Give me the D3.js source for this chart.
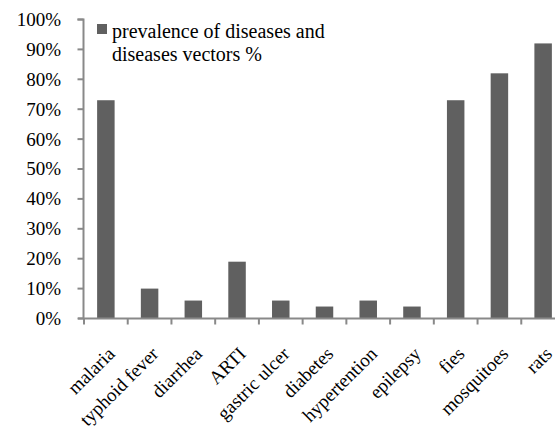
<!DOCTYPE html>
<html><head><meta charset="utf-8">
<script src="https://cdn.jsdelivr.net/npm/d3@7/dist/d3.min.js"></script>
<style>body{margin:0;background:#fff}svg{display:block}</style>
</head><body><svg id="c" width="555" height="433" font-family="Liberation Serif"></svg>
<script>
const categories = ["malaria","typhoid fever","diarrhea","ARTI","gastric ulcer","diabetes","hypertention","epilepsy","fies","mosquitoes","rats"];
const values = [73,10,6,19,6,4,6,4,73,82,92];
const yTicks = [0,10,20,30,40,50,60,70,80,90,100];
const seriesName = ["prevalence of diseases and","diseases vectors %"];

const FONT = "Liberation Serif";
const svg = d3.select("#c");
const x0 = 84, x1 = 565, yTop = 19.5, yBot = 318.5;
const x = d3.scaleBand().domain(categories).range([x0, x1]).paddingInner(0.6).paddingOuter(0.3);
const y = d3.scaleLinear().domain([0,100]).range([yBot, yTop]);
const axisColor = "#898989", barColor = "#606060";

// bars
svg.append("g").selectAll("rect").data(values).join("rect")
  .attr("x", (d,i)=>x(categories[i]))
  .attr("y", d=>y(d))
  .attr("width", x.bandwidth())
  .attr("height", d=>yBot - y(d))
  .attr("fill", barColor);

// y axis
const ya = svg.append("g");
ya.append("path").attr("fill","none").attr("stroke", axisColor).attr("stroke-width", 2)
  .attr("d", `M${x0-6.5},${yTop}H${x0-0.5}V${yBot}`);
ya.selectAll("line").data(yTicks).join("line")
  .attr("x1", x0-6.5).attr("x2", x0-0.5).attr("y1", d=>y(d)).attr("y2", d=>y(d))
  .attr("stroke", axisColor).attr("stroke-width", 2);
ya.selectAll("text").data(yTicks).join("text")
  .attr("x", 61).attr("y", d=>y(d)).attr("dy","0.34em").attr("text-anchor","end")
  .attr("font-size", 19).attr("font-family", FONT).attr("fill","#000").text(d=>d+"%");

// x axis
const step = x.step();
const xa = svg.append("g");
xa.append("line").attr("x1", x0-6).attr("x2", 555).attr("y1", yBot).attr("y2", yBot)
  .attr("stroke", axisColor).attr("stroke-width", 2);
xa.selectAll("line.t").data(categories).join("line").attr("class","t")
  .attr("x1", d=>x(d) - (step - x.bandwidth())/2).attr("x2", d=>x(d) - (step - x.bandwidth())/2)
  .attr("y1", yBot).attr("y2", yBot+6).attr("stroke", axisColor).attr("stroke-width", 2);

// rotated labels via textPath along 45° baselines ending under each band
const defs = svg.append("defs");
const L = 200;
categories.forEach((d,i)=>{
  const ax = x(d)+x.bandwidth()/2+10, ay = 355;
  defs.append("path").attr("id","lp"+i)
    .attr("d", `M${ax - L*Math.SQRT1_2},${ay + L*Math.SQRT1_2}L${ax},${ay}`);
});
xa.selectAll("text.lab").data(categories).join("text").attr("class","lab")
  .attr("font-size",19).attr("font-family", FONT).attr("fill","#000")
  .append("textPath").attr("href",(d,i)=>"#lp"+i).attr("startOffset","100%")
  .attr("text-anchor","end").text(d=>d);

// legend
const lg = svg.append("g");
lg.append("rect").attr("x",97).attr("y",24).attr("width",10).attr("height",10).attr("fill",barColor);
lg.selectAll("text.lg").data(seriesName).join("text").attr("class","lg")
  .attr("x",112).attr("y",(d,i)=>38+i*23).attr("font-size",20).attr("font-family", FONT).attr("fill","#000").text(d=>d);
</script></body></html>
